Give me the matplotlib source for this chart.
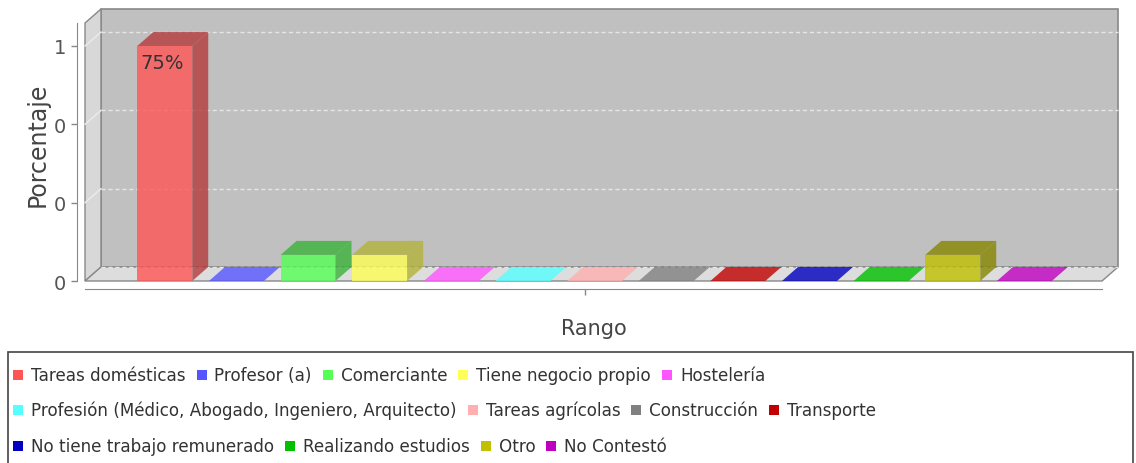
import matplotlib
matplotlib.use("Agg")
import matplotlib.pyplot as plt
from matplotlib.patches import Polygon, Rectangle
from matplotlib.colors import to_rgb

# datos del grafico
categorias = ["Tareas domésticas", "Profesor (a)", "Comerciante", "Tiene negocio propio", "Hostelería",
              "Profesión (Médico, Abogado, Ingeniero, Arquitecto)", "Tareas agrícolas", "Construcción",
              "Transporte", "No tiene trabajo remunerado", "Realizando estudios", "Otro", "No Contestó"]
porcentajes = [0.75, 0, 0.0833, 0.0833, 0, 0, 0, 0, 0, 0, 0, 0.0833, 0]
colores = ["#ff5555", "#5555ff", "#55ff55", "#ffff55", "#ff55ff", "#55ffff", "#ffafaf", "#808080",
           "#c00000", "#0000c0", "#00c000", "#c0c000", "#c000c0"]
ticks_y = [0, 0.25, 0.5, 0.75]
etiquetas_y = ["0", "0", "0", "1"]
filas_leyenda = [5, 4, 4]

W, H = 1136, 464
fig = plt.figure(figsize=(W / 100, H / 100), dpi=100)
fig.patch.set_facecolor("white")

def fx(px):
    return px / W

def fy(py):
    return (H - py) / H

ax = fig.add_axes([fx(85), fy(282), fx(1102) - fx(85), fy(24) - fy(282)])
ax.patch.set_visible(False)

ancho = 0.767
xmin = -ancho / 2 - 0.73
xmax = len(categorias) - 1 + ancho / 2 + 0.70
ytop = 0.8234
ax.set_xlim(xmin, xmax)
ax.set_ylim(0, ytop)

# profundidad 3D en unidades de datos
ddx = 16 * (xmax - xmin) / 1017
ddy = 14 * ytop / 258

borde = "#888888"
# pared de fondo
ax.add_patch(Polygon([(xmin + ddx, ddy), (xmax + ddx, ddy), (xmax + ddx, ytop + ddy), (xmin + ddx, ytop + ddy)],
                     closed=True, facecolor="#c0c0c0", edgecolor=borde, lw=1.2, clip_on=False, zorder=1))
# pared lateral
ax.add_patch(Polygon([(xmin, 0), (xmin + ddx, ddy), (xmin + ddx, ytop + ddy), (xmin, ytop)],
                     closed=True, facecolor="#d8d8d8", edgecolor=borde, lw=1.0, clip_on=False, zorder=1))
# suelo
ax.add_patch(Polygon([(xmin, 0), (xmax, 0), (xmax + ddx, ddy), (xmin + ddx, ddy)],
                     closed=True, facecolor="#dddddd", edgecolor=borde, lw=1.0, clip_on=False, zorder=1))

for v in ticks_y:
    ax.plot([xmin + ddx, xmax + ddx], [v + ddy, v + ddy], color="#e6e6e6", lw=1, ls=(0, (3, 2)),
            clip_on=False, zorder=2)
    if v > 0:
        ax.plot([xmin, xmin + ddx], [v, v + ddy], color="#ececec", lw=1, clip_on=False, zorder=2)

alfa = 0.8
for i, (v, c) in enumerate(zip(porcentajes, colores)):
    base = to_rgb(c)
    oscuro = tuple(k * 0.7 for k in base)
    x0, x1 = i - ancho / 2, i + ancho / 2
    if v > 0:
        ax.add_patch(Rectangle((x0, 0), ancho, v, facecolor=base, alpha=alfa, lw=0, clip_on=False, zorder=3))
        ax.add_patch(Polygon([(x1, 0), (x1 + ddx, ddy), (x1 + ddx, v + ddy), (x1, v)], closed=True,
                             facecolor=oscuro, alpha=alfa, lw=0, clip_on=False, zorder=3))
        ax.add_patch(Polygon([(x0, v), (x1, v), (x1 + ddx, v + ddy), (x0 + ddx, v + ddy)], closed=True,
                             facecolor=oscuro, alpha=alfa, lw=0, clip_on=False, zorder=3))
        if v > 0.2:
            ax.text(i - 0.03, v - 0.022, f"{v * 100:.0f}%", ha="center", va="top", fontsize=14,
                    color="#333333", zorder=4)
    else:
        ax.add_patch(Polygon([(x0, 0), (x1, 0), (x1 + ddx, ddy), (x0 + ddx, ddy)], closed=True,
                             facecolor=base, alpha=alfa, lw=0, clip_on=False, zorder=3))

for s in ["top", "right"]:
    ax.spines[s].set_visible(False)
for s in ["left", "bottom"]:
    ax.spines[s].set_position(("outward", 6))
    ax.spines[s].set_color(borde)
ax.set_yticks(ticks_y)
ax.set_yticklabels(etiquetas_y)
ax.set_xticks([(xmin + xmax) / 2 - 0.12])
ax.set_xticklabels([])
ax.tick_params(axis="both", colors=borde, labelcolor="#555555", labelsize=14, length=4, width=1)
ax.set_ylabel("Porcentaje", fontsize=17, color="#444444", labelpad=3)
ax.yaxis.label.set_y(0.53)
ax.set_xlabel("Rango", fontsize=15, color="#444444", labelpad=13)

# leyenda
fig.patches.append(Rectangle((fx(8), fy(470)), fx(1133) - fx(8), fy(353) - fy(470), transform=fig.transFigure,
                             facecolor="white", edgecolor="#444444", lw=1.2, zorder=0))
renderer = fig.canvas.get_renderer()
filas_y = [376, 411, 447]
k = 0
for fila, n in enumerate(filas_leyenda):
    x = 13
    y = filas_y[fila]
    for j in range(n):
        fig.patches.append(Rectangle((fx(x), fy(y + 5)), fx(10), fy(y - 5) - fy(y + 5), transform=fig.transFigure,
                                     facecolor=colores[k], lw=0))
        t = fig.text(fx(x + 18), fy(y), categorias[k], fontsize=12.1, color="#333333", va="center", ha="left")
        x = x + 18 + t.get_window_extent(renderer).width + 11
        k += 1

fig.savefig("out.png", dpi=100)
